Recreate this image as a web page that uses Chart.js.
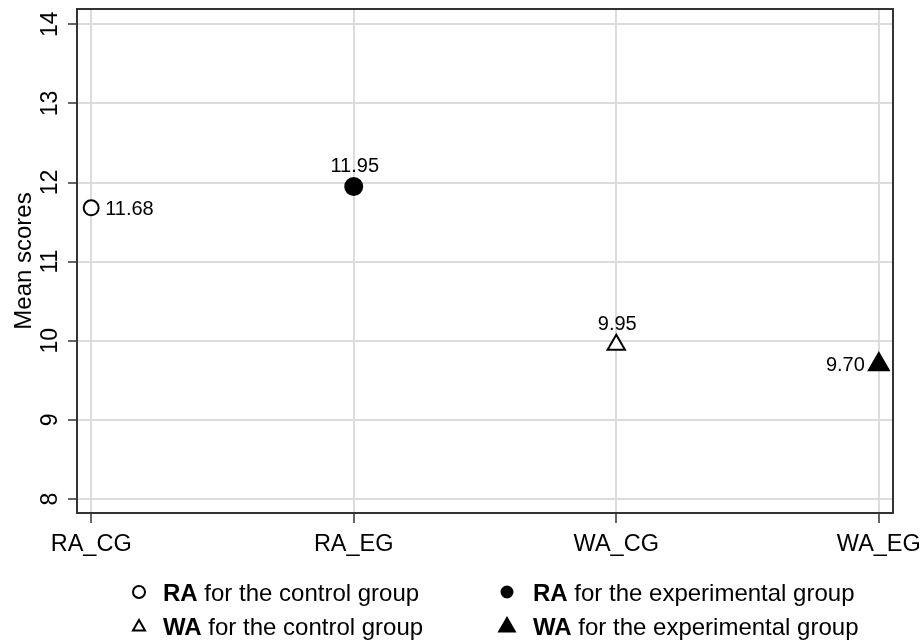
<!DOCTYPE html>
<html>
<head>
<meta charset="utf-8">
<title>Mean scores</title>
<script src="https://cdn.jsdelivr.net/npm/chart.js@4.4.1/dist/chart.umd.min.js"></script>
<style>
  html, body { margin: 0; padding: 0; background: #fff; }
  #wrap { width: 924px; height: 641px; }
</style>
</head>
<body>
<div id="wrap"><canvas id="meanChart" width="924" height="641"></canvas></div>
<script>
// groups along the x axis
const groups = ['RA_CG', 'RA_EG', 'WA_CG', 'WA_EG'];
// mean score of each group
const meanScores = [11.68, 11.95, 9.95, 9.70];
// y axis tick values
const yTicks = [8, 9, 10, 11, 12, 13, 14];
// legend, bold part then the rest of the line
const legendBold = ['RA', 'RA', 'WA', 'WA'];
const legendText = [' for the control group', ' for the experimental group',
                    ' for the control group', ' for the experimental group'];

// marker look for each group (open = control, filled = experimental)
const markerStyle = ['circle', 'circle', 'triangle', 'triangle'];
const markerFill = ['#fff', '#000', '#fff', '#000'];
const markerRadius = [7.5, 8.5, 10, 11.5];
// where the value label sits next to its marker
const labelSide = ['right', 'top', 'top', 'left'];

const FONT = "'Liberation Sans', Arial, sans-serif";
Chart.defaults.font.family = FONT;
Chart.defaults.color = '#000';

//frame : box round the plot area like the original
const framePlugin = {
    id: 'frame',
    beforeDatasetsDraw(chart) {
        const a = chart.chartArea;
        const ctx = chart.ctx;
        ctx.save();
        ctx.strokeStyle = '#333';
        ctx.lineWidth = 2;
        ctx.strokeRect(a.left, a.top, a.right - a.left, a.bottom - a.top);
        ctx.restore();
    }
};

//valueLabels : print the mean next to each marker
const valueLabels = {
    id: 'valueLabels',
    afterDatasetsDraw(chart) {
        const ctx = chart.ctx;
        const meta = chart.getDatasetMeta(0);
        ctx.save();
        ctx.font = '20px ' + FONT;
        ctx.fillStyle = '#000';
        meta.data.forEach(function(pt, i) {
            const txt = meanScores[i].toFixed(2);
            const side = labelSide[i];
            if (side === 'right') {
                ctx.textAlign = 'left'; ctx.textBaseline = 'middle';
                ctx.fillText(txt, pt.x + 14, pt.y + 2);
            } else if (side === 'left') {
                ctx.textAlign = 'right'; ctx.textBaseline = 'middle';
                ctx.fillText(txt, pt.x - 14, pt.y + 1);
            } else {
                ctx.textAlign = 'center'; ctx.textBaseline = 'middle';
                ctx.fillText(txt, pt.x + 1, pt.y - 20);
            }
        });
        ctx.restore();
    }
};

//groupLegend : two column legend under the axis with a bold first word
const groupLegend = {
    id: 'groupLegend',
    afterDraw(chart) {
        const ctx = chart.ctx;
        const colMarker = [139, 507];
        const colText = [163, 533];
        const rowY = [594, 628];
        const markY = [592, 627];
        const legRadius = [6, 5.5, 7, 9];
        ctx.save();
        legendBold.forEach(function(b, i) {
            const col = i % 2;
            const row = Math.floor(i / 2);
            ctx.fillStyle = markerFill[i];
            ctx.strokeStyle = '#000';
            Chart.helpers.drawPoint(ctx, {
                pointStyle: markerStyle[i],
                radius: legRadius[i],
                rotation: 0,
                borderWidth: 2
            }, colMarker[col], markY[row]);
            ctx.fillStyle = '#000';
            ctx.textAlign = 'left';
            ctx.textBaseline = 'middle';
            ctx.font = 'bold 24px ' + FONT;
            ctx.fillText(b, colText[col], rowY[row]);
            const w = ctx.measureText(b).width;
            ctx.font = '24px ' + FONT;
            ctx.fillText(legendText[i], colText[col] + w, rowY[row]);
        });
        ctx.restore();
    }
};

function buildChart() {
    const points = groups.map(function(g, i) {
        return { x: i, y: meanScores[i] };
    });
    const ctx = document.getElementById('meanChart');
    new Chart(ctx, {
        type: 'scatter',
        data: {
            datasets: [{
                data: points,
                pointStyle: markerStyle,
                pointRadius: markerRadius,
                pointHoverRadius: markerRadius,
                pointBackgroundColor: markerFill,
                pointBorderColor: '#000',
                pointBorderWidth: 2,
                showLine: false,
                clip: false
            }]
        },
        options: {
            responsive: false,
            animation: false,
            events: [],
            layout: {
                autoPadding: false,
                padding: { top: 9, right: 31, left: 0, bottom: 0 }
            },
            plugins: {
                legend: { display: false },
                tooltip: { enabled: false }
            },
            scales: {
                x: {
                    type: 'linear',
                    min: -0.054,
                    max: 3.054,
                    bounds: 'data',
                    afterBuildTicks(scale) {
                        scale.ticks = groups.map(function(g, i) { return { value: i }; });
                    },
                    afterFit(scale) {
                        scale.height = 128;
                        scale.paddingLeft = 0;
                        scale.paddingRight = 0;
                    },
                    ticks: {
                        callback: function(v) { return groups[v]; },
                        font: { size: 23.5 },
                        color: '#000',
                        padding: 7,
                        maxRotation: 0,
                        autoSkip: false
                    },
                    grid: {
                        color: '#dcdcdc',
                        lineWidth: 2,
                        tickColor: '#333',
                        tickWidth: 1.5,
                        tickLength: 10
                    },
                    border: { display: false }
                },
                y: {
                    min: 7.823,
                    max: 14.193,
                    bounds: 'data',
                    afterBuildTicks(scale) {
                        scale.ticks = yTicks.map(function(v) { return { value: v }; });
                    },
                    afterFit(scale) {
                        scale.width = 77;
                        scale.paddingTop = 0;
                        scale.paddingBottom = 0;
                    },
                    ticks: {
                        font: { size: 23 },
                        color: '#000',
                        minRotation: 90,
                        maxRotation: 90,
                        crossAlign: 'center',
                        padding: 5
                    },
                    grid: {
                        color: '#dcdcdc',
                        lineWidth: 2,
                        tickColor: '#333',
                        tickWidth: 1.5,
                        tickLength: 9
                    },
                    border: { display: false },
                    title: {
                        display: true,
                        text: 'Mean scores',
                        font: { size: 24 },
                        color: '#000',
                        padding: { top: 9.5, bottom: 0 }
                    }
                }
            }
        },
        plugins: [framePlugin, valueLabels, groupLegend]
    });
}

buildChart();
</script>
</body>
</html>
